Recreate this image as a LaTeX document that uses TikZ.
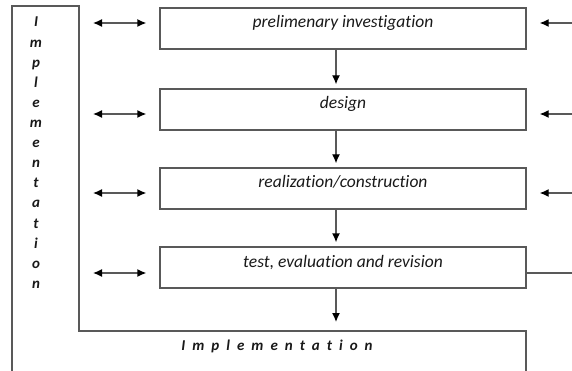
\documentclass[tikz,border=0pt]{standalone}
\usepackage{fontspec}
\setmainfont{Carlito}[Ligatures=NoCommon]
\usetikzlibrary{arrows.meta, positioning, calc}

\tikzset{
    stage/.style={draw, rectangle, minimum width=366pt, inner ysep=0pt,
        text height=20pt, text depth=21pt, font=\itshape\fontsize{17.5}{20}\selectfont},
    letter/.style={anchor=base, font=\bfseries\itshape\fontsize{15}{18}\selectfont},
    tip/.tip={Latex[length=9pt, width=8pt, fill=black, color=black]},
    flow/.style={-tip},
    link/.style={tip-tip}
}

\begin{document}
\begin{tikzpicture}[x=1pt, y=-1pt, line width=1.3pt, draw=black!65, text=black!90]
    \useasboundingbox (0,0) rectangle (572,371);

    % implementation frame
    \coordinate (lbar) at (79,0);
    \coordinate (spine) at (336,0);
    \draw (12,371) -- (12,6) -- (79,6) -- (79,331) -- (526,331) -- (526,371);
    \coordinate (lbot) at (336,331);

    \foreach \l [count=\i] in {I,m,p,l,e,m,e,n,t,a,t,i,o,n}
        \node[letter] (v\i) at (36,{27+20.1*(\i-1)}) {\l};
    \node[letter] (impl) at (277,350) {\spaceskip=7pt I m p l e m e n t a t i o n};

    \node[stage] (prelim) at (343,28.5) {prelimenary investigation};
    \node[stage] (design) at (343,109.5) {design};
    \node[stage] (build) at (343,188.5) {realization/construction};
    \node[stage] (test) at (343,267.5) {test, evaluation and revision};

    \draw[flow, shorten >=4pt] (prelim.south -| spine) -- (design.north -| spine);
    \draw[flow, shorten >=4pt] (design.south -| spine) -- (build.north -| spine);
    \draw[flow, shorten >=4pt] (build.south -| spine) -- (test.north -| spine);
    \draw[flow, shorten >=9pt] (test.south -| spine) -- (lbot);

    \coordinate (l1) at (93,23);
    \coordinate (l2) at (93,114);
    \coordinate (l3) at (93,193);
    \coordinate (l4) at (93,273);
    \draw[link, shorten <=14pt, shorten >=13pt] (l1 -| lbar) -- (l1 -| prelim.west);
    \draw[link, shorten <=14pt, shorten >=13pt] (l2 -| lbar) -- (l2 -| design.west);
    \draw[link, shorten <=14pt, shorten >=13pt] (l3 -| lbar) -- (l3 -| build.west);
    \draw[link, shorten <=14pt, shorten >=13pt] (l4 -| lbar) -- (l4 -| test.west);

    \coordinate (r1) at (572,23);
    \coordinate (r2) at (572,114);
    \coordinate (r3) at (572,193);
    \coordinate (r4) at (572,273);
    \draw[flow, shorten >=13pt] (r1) -- (r1 -| prelim.east);
    \draw[flow, shorten >=13pt] (r2) -- (r2 -| design.east);
    \draw[flow, shorten >=13pt] (r3) -- (r3 -| build.east);
    \draw (r4 -| test.east) -- (r4);
\end{tikzpicture}
\end{document}
